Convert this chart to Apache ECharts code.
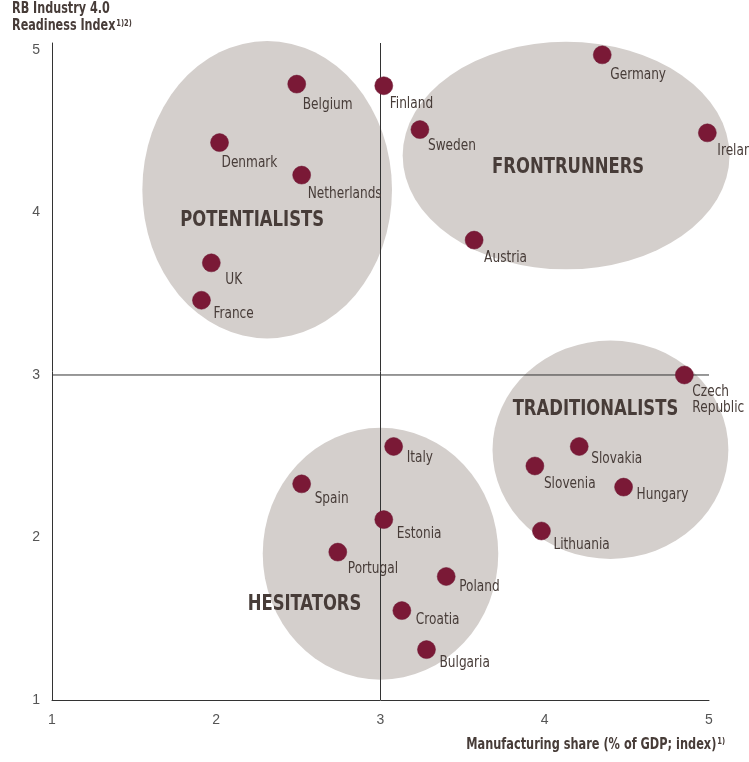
<!DOCTYPE html>
<html>
<head>
<meta charset="utf-8">
<script src="https://cdn.jsdelivr.net/npm/echarts@6/dist/echarts.min.js"></script>
<style>
html,body{margin:0;padding:0;background:#fff;}
#chart{width:749px;height:762px;}
</style>
</head>
<body>
<div id="chart"></div>
<script>
// ---- Data ----
const countries = ["Germany","Belgium","Finland","Sweden","Ireland","Denmark","Netherlands","Austria","UK","France",
  "Czech\nRepublic","Slovakia","Italy","Slovenia","Hungary","Spain","Estonia","Lithuania","Portugal","Poland","Croatia","Bulgaria"];
const manufacturingShare = [4.35,2.49,3.02,3.24,4.99,2.02,2.52,3.57,1.97,1.91,
  4.85,4.21,3.08,3.94,4.48,2.52,3.02,3.98,2.74,3.40,3.13,3.28];
const readinessIndex = [4.97,4.79,4.78,4.51,4.49,4.43,4.23,3.83,3.69,3.46,
  3.00,2.56,2.56,2.44,2.31,2.33,2.11,2.04,1.91,1.76,1.55,1.31];

const groupNames = ["POTENTIALISTS","FRONTRUNNERS","TRADITIONALISTS","HESITATORS"];
const groupCenterX = [2.31,4.13,4.40,3.00];
const groupCenterY = [4.14,4.35,2.54,1.90];
const groupHalfWidth = [0.76,0.995,0.718,0.717];
const groupHalfHeight = [0.915,0.70,0.672,0.775];

const xTicks = [1,2,3,4,5];
const yTicks = [1,2,3,4,5];
const quadrantX = 3;
const quadrantY = 3;

const yTitle = "{b|RB Industry 4.0}\n{b|Readiness Index}{s|1)2)}";
const xTitle = "{b|Manufacturing share (% of GDP; index)}{s|1)}";

// ---- Styling (label placement, pixel offsets) ----
const labelOffsets = {
  "Germany":[8,20],"Belgium":[6,21],"Finland":[6,18],"Sweden":[8,16],"Ireland":[10,18],
  "Denmark":[2,20],"Netherlands":[6,19],"Austria":[10,18],"UK":[14,17],"France":[12,14],
  "Czech\nRepublic":[8,25],"Slovakia":[12,13],"Italy":[13,12],"Slovenia":[9,18],"Hungary":[13,8],
  "Spain":[13,15],"Estonia":[13,14],"Lithuania":[12,14],"Portugal":[10,17],"Poland":[13,11],
  "Croatia":[14,9],"Bulgaria":[13,13]
};
const groupLabelOffsets = [[-15,31],[2,12],[-15,-40],[-76,51]];

const textColor = '#473c38';
const condensed = '"Liberation Sans Narrow","DejaVu Sans Condensed","Roboto Condensed","Arial Narrow",sans-serif';
const yMax = 5.043;

const scatterData = countries.map((c,i)=>[manufacturingShare[i], readinessIndex[i], i]);
const groupData = groupNames.map((g,i)=>[groupCenterX[i],groupCenterY[i],groupHalfWidth[i],groupHalfHeight[i],i]);

const chart = echarts.init(document.getElementById('chart'), null, {renderer:'canvas'});
chart.setOption({
  animation:false,
  backgroundColor:'#ffffff',
  graphic:[
    {type:'text', x:12, y:1, scaleX:0.83, z:10, style:{text:yTitle, rich:{
        b:{fontFamily:condensed, fontWeight:'bold', fontSize:15, fill:textColor, lineHeight:17},
        s:{fontFamily:condensed, fontWeight:'bold', fontSize:9, fill:textColor, lineHeight:17, padding:[0,0,6,1]}
      }}},
    {type:'text', x:725, y:737, scaleX:0.84, z:10, style:{text:xTitle, align:'right', rich:{
        b:{fontFamily:condensed, fontWeight:'bold', fontSize:15, fill:textColor, lineHeight:17},
        s:{fontFamily:condensed, fontWeight:'bold', fontSize:9, fill:textColor, lineHeight:17, padding:[0,0,7,1]}
      }}}
  ],
  grid:{left:52, right:40, top:43, bottom:62, containLabel:false},
  xAxis:{
    type:'value', min:xTicks[0], max:xTicks[xTicks.length-1], interval:1,
    axisLine:{show:true, lineStyle:{color:'#333', width:1}},
    axisTick:{show:false}, splitLine:{show:false},
    axisLabel:{color:'#555', fontSize:14, margin:13, fontFamily:'"Liberation Sans",Arial,sans-serif'}
  },
  yAxis:{
    type:'value', min:yTicks[0], max:yMax, interval:1,
    axisLine:{show:true, lineStyle:{color:'#333', width:1}},
    axisTick:{show:false}, splitLine:{show:false},
    axisLabel:{color:'#555', fontSize:14, margin:12, fontFamily:'"Liberation Sans",Arial,sans-serif',
      formatter:v=> yTicks.indexOf(v)>=0 ? String(v) : ''}
  },
  series:[
    {
      type:'custom', z:1, clip:false, silent:true,
      data:groupData,
      renderItem:(params, api)=>{
        const c = api.coord([api.value(0), api.value(1)]);
        const s = api.size([api.value(2), api.value(3)]);
        return {type:'circle', x:c[0], y:c[1], scaleX:s[0]/s[1], scaleY:1,
          shape:{cx:0, cy:0, r:s[1]}, style:{fill:'#d4cfcc'}};
      }
    },
    {
      type:'line', z:2, silent:true, symbol:'none',
      data:[[quadrantX, yTicks[0]],[quadrantX, yMax]],
      lineStyle:{color:'#333', width:1}
    },
    {
      type:'line', z:2, silent:true, symbol:'none',
      data:[[xTicks[0], quadrantY],[xTicks[xTicks.length-1], quadrantY]],
      lineStyle:{color:'#333', width:1}
    },
    {
      type:'scatter', z:3, symbol:'circle', symbolSize:18,
      itemStyle:{color:'#7a1936', opacity:1, borderColor:'#6a1430', borderWidth:0.5},
      data:scatterData
    },
    {
      type:'custom', z:4, clip:false, silent:true,
      data:scatterData,
      renderItem:(params, api)=>{
        const c = api.coord([api.value(0), api.value(1)]);
        const name = countries[api.value(2)];
        const off = labelOffsets[name];
        return {type:'text', x:c[0]+off[0], y:c[1]+off[1], scaleX:0.9,
          style:{text:name, fill:textColor, font:'15px '+condensed, align:'left', verticalAlign:'middle', lineHeight:16}};
      }
    },
    {
      type:'custom', z:4, clip:false, silent:true,
      data:groupData,
      renderItem:(params, api)=>{
        const c = api.coord([api.value(0), api.value(1)]);
        const i = api.value(4);
        return {type:'text', x:c[0]+groupLabelOffsets[i][0], y:c[1]+groupLabelOffsets[i][1], scaleX:0.87,
          style:{text:groupNames[i], fill:textColor, font:'bold 21px '+condensed, align:'center', verticalAlign:'middle'}};
      }
    }
  ]
});
</script>
</body>
</html>
